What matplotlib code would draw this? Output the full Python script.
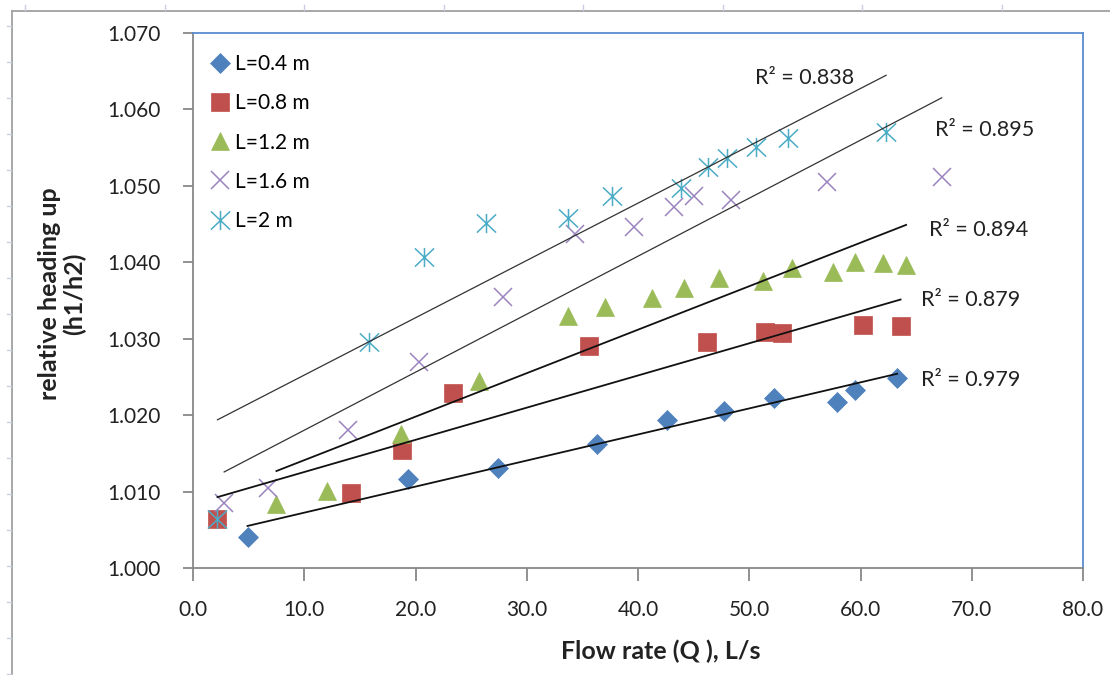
import numpy as np
import matplotlib
matplotlib.use("Agg")
import matplotlib.pyplot as plt
from matplotlib.path import Path
from matplotlib.lines import Line2D

plt.rcParams['font.family'] = ['Lato', 'DejaVu Sans']

# ---------------- data ----------------
labels = ["L=0.4 m", "L=0.8 m", "L=1.2 m", "L=1.6 m", "L=2 m"]

q_04 = [4.9, 19.3, 27.4, 36.3, 42.6, 47.7, 52.2, 57.9, 59.5, 63.3]
h_04 = [1.0041, 1.0116, 1.0131, 1.0162, 1.0193, 1.0206, 1.0222, 1.0217, 1.0233, 1.0249]

q_08 = [2.2, 14.2, 18.8, 23.4, 35.6, 46.2, 51.4, 52.9, 60.2, 63.6]
h_08 = [1.0064, 1.0098, 1.0154, 1.0229, 1.0290, 1.0296, 1.0309, 1.0308, 1.0318, 1.0316]

q_12 = [7.5, 12.0, 18.7, 25.7, 33.7, 37.0, 41.3, 44.1, 47.3, 51.2, 53.8, 57.5, 59.5, 62.0, 64.1]
h_12 = [1.0084, 1.0101, 1.0175, 1.0245, 1.0330, 1.0342, 1.0353, 1.0366, 1.0380, 1.0375,
        1.0392, 1.0387, 1.0400, 1.0399, 1.0397]

q_16 = [2.8, 6.7, 13.9, 20.3, 27.9, 34.3, 39.6, 43.2, 45.0, 48.4, 57.0, 67.3]
h_16 = [1.0085, 1.0105, 1.0181, 1.0269, 1.0355, 1.0437, 1.0446, 1.0472, 1.0487, 1.0481,
        1.0505, 1.0512]

q_20 = [2.2, 15.8, 20.8, 26.3, 33.7, 37.7, 43.9, 46.3, 48.0, 50.6, 53.5, 62.3]
h_20 = [1.0064, 1.0296, 1.0407, 1.0452, 1.0458, 1.0487, 1.0497, 1.0525, 1.0536, 1.0551,
        1.0563, 1.0570]

# linear trendlines as drawn (slope, intercept) and their R^2 labels
trend_slope = [0.000341, 0.000421, 0.000569, 0.000759, 0.000750]
trend_intercept = [1.00383, 1.00835, 1.00842, 1.01044, 1.01774]
r2_text = ["R² = 0.979", "R² = 0.879", "R² = 0.894", "R² = 0.895", "R² = 0.838"]
r2_x = [65.4, 65.4, 66.2, 66.7, 50.5]
r2_y = [1.0246, 1.0351, 1.0442, 1.0573, 1.0641]

x_ticks = [0, 10, 20, 30, 40, 50, 60, 70, 80]
y_ticks = [1.000, 1.010, 1.020, 1.030, 1.040, 1.050, 1.060, 1.070]

# ---------------- styling ----------------
colors = ["#4F81BD", "#C0504D", "#9BBB59", "#9A84C0", "#4BACC6"]

star = Path([(0, -1), (0, 1), (-1, -0.95), (1, 0.95), (-1, 0.95), (1, -0.95)],
            [Path.MOVETO, Path.LINETO, Path.MOVETO, Path.LINETO, Path.MOVETO, Path.LINETO])

mstyles = [
    dict(marker="D", markersize=9.8, mec=colors[0], mew=0.5),
    dict(marker="s", markersize=12.8, mec=colors[1], mew=0.5),
    dict(marker="^", markersize=13.2, mec=colors[2], mew=0.5),
    dict(marker="x", markersize=13.2, mew=1.1),
    dict(marker=star, markersize=13.8, mew=1.1),
]
trend_lw = [1.3, 1.3, 1.3, 0.9, 0.9]
trend_col = ["#111111", "#111111", "#111111", "#333333", "#333333"]

W, H = 1110, 675
fig = plt.figure(figsize=(W / 100, H / 100), dpi=100)
ax = fig.add_axes([193 / W, 1 - 568 / H, 890 / W, 535 / H])

series = [(q_04, h_04), (q_08, h_08), (q_12, h_12), (q_16, h_16), (q_20, h_20)]
for i, (q, h) in enumerate(series):
    ax.plot(q, h, linestyle="none", color=colors[i], label=labels[i], zorder=3, **mstyles[i])

for i, (q, h) in enumerate(series):
    xs = np.array([min(q), max(q)])
    ax.plot(xs, trend_slope[i] * xs + trend_intercept[i], color=trend_col[i],
            lw=trend_lw[i], zorder=4)
    ax.text(r2_x[i], r2_y[i], r2_text[i], fontsize=15.5, ha="left", va="center",
            color="#222222")

ax.set_xlim(0, 80)
ax.set_ylim(1.000, 1.070)
ax.set_xticks(x_ticks)
ax.set_yticks(y_ticks)
ax.set_xticklabels([f"{v:.1f}" for v in x_ticks])
ax.set_yticklabels([f"{v:.3f}" for v in y_ticks])
ax.tick_params(axis="both", direction="out", color="#888888", width=1.3, labelsize=15,
               labelcolor="#222222")
ax.tick_params(axis="y", length=7, pad=16)
ax.tick_params(axis="x", length=9, pad=14)

for s in ["left", "bottom"]:
    ax.spines[s].set_color("#888888")
    ax.spines[s].set_linewidth(1.3)
for s in ["top", "right"]:
    ax.spines[s].set_color("#5B8BD0")
    ax.spines[s].set_linewidth(1.3)

ax.legend(loc="upper left", bbox_to_anchor=(0.012, 0.976), frameon=False, fontsize=15,
          handlelength=0.8, handletextpad=0.3, labelspacing=0.92, borderaxespad=0.0)

fig.text(661 / W, 1 - 651 / H, "Flow rate (Q ), L/s", fontsize=18, fontweight="bold",
         ha="center", va="center", color="#222222")
fig.text(62 / W, 1 - 294 / H, "relative heading up\n(h1/h2)", fontsize=18,
         fontweight="bold", rotation=90, ha="center", va="center", color="#222222",
         linespacing=1.05)

# outer chart-area frame
fig.add_artist(Line2D([12 / W, 1], [1 - 11 / H, 1 - 11 / H], transform=fig.transFigure,
                      color="#A0A0A0", lw=1.3))
fig.add_artist(Line2D([12 / W, 12 / W], [0, 1 - 11 / H], transform=fig.transFigure,
                      color="#A0A0A0", lw=1.3))
for xp in np.arange(25, W, 139.5):
    fig.add_artist(Line2D([xp / W, xp / W], [1 - 5 / H, 1 - 10 / H], transform=fig.transFigure,
                          color="#C8D0E0", lw=1.0))
for yp in np.arange(26, H, 36):
    fig.add_artist(Line2D([7 / W, 11 / W], [1 - yp / H, 1 - yp / H], transform=fig.transFigure,
                          color="#C8D0E0", lw=1.0))

fig.savefig("out.png", dpi=100)
